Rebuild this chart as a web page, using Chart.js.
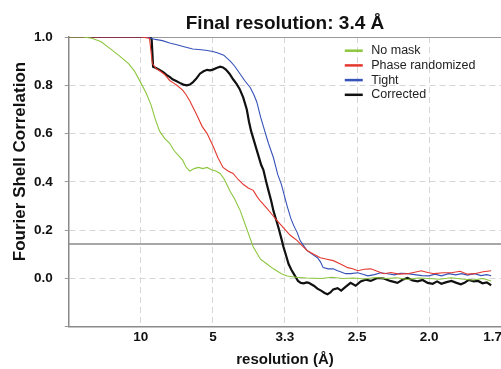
<!DOCTYPE html>
<html>
<head>
<meta charset="utf-8">
<script src="https://cdn.jsdelivr.net/npm/chart.js@4.4.1/dist/chart.umd.min.js"></script>
<style>
  html, body { margin: 0; padding: 0; background: #fff; overflow: hidden; }
  #wrap { width: 501px; height: 369px; overflow: hidden; }
</style>
</head>
<body>
<div id="wrap"><canvas id="fsc" width="504" height="369"></canvas></div>
<script>
// x values are spatial frequency (1/Å), ticks are labelled with resolution in Å
const xTickFreq = [0.1, 0.2, 0.3, 0.4, 0.5, 0.588];
const xTickLabels = ['10', '5', '3.3', '2.5', '2.0', '1.7'];
const threshold = 0.143;

const chartTitle = 'Final resolution: 3.4 Å';
const xTitle = 'resolution (Å)';
const yTitle = 'Fourier Shell Correlation';

const seriesNames = ['No mask', 'Phase randomized', 'Tight', 'Corrected'];
const seriesColors = ['#8dc63f', '#e3382f', '#3552b8', '#111111'];

// [frequency, FSC]
const noMask = [
  [0, 1.0], [0.02, 1.0], [0.032, 0.995], [0.045, 0.98], [0.056, 0.955], [0.069, 0.925],
  [0.083, 0.89], [0.091, 0.86], [0.1, 0.81], [0.107, 0.77], [0.114, 0.72], [0.12, 0.66],
  [0.126, 0.61], [0.133, 0.58], [0.14, 0.56], [0.146, 0.53], [0.152, 0.51], [0.158, 0.49],
  [0.163, 0.46], [0.168, 0.445], [0.174, 0.455], [0.18, 0.46], [0.186, 0.455], [0.192, 0.46],
  [0.198, 0.45], [0.204, 0.445], [0.21, 0.435], [0.216, 0.41], [0.224, 0.36], [0.23, 0.33],
  [0.238, 0.28], [0.247, 0.205], [0.256, 0.13], [0.266, 0.08], [0.275, 0.06], [0.284, 0.04],
  [0.295, 0.02], [0.303, 0.01], [0.315, 0.005], [0.33, 0.002], [0.35, 0.0], [0.365, 0.005],
  [0.38, 0.0], [0.395, 0.002], [0.41, -0.002], [0.425, 0.004], [0.44, 0.0], [0.455, 0.003],
  [0.47, -0.004], [0.485, 0.002], [0.5, 0.0], [0.515, -0.003], [0.53, 0.003], [0.545, -0.002],
  [0.56, -0.006], [0.575, 0.0], [0.586, -0.01]
];

const phaseRandomized = [
  [0, 1.0], [0.05, 1.0], [0.1, 1.0], [0.112, 0.995], [0.116, 0.89], [0.121, 0.87],
  [0.126, 0.86], [0.133, 0.845], [0.14, 0.82], [0.145, 0.81], [0.15, 0.8], [0.158, 0.78],
  [0.163, 0.76], [0.168, 0.735], [0.173, 0.705], [0.178, 0.675], [0.185, 0.63], [0.192, 0.6],
  [0.2, 0.55], [0.207, 0.5], [0.214, 0.46], [0.221, 0.445], [0.228, 0.435], [0.235, 0.41],
  [0.242, 0.39], [0.249, 0.375], [0.256, 0.365], [0.261, 0.34], [0.266, 0.32], [0.275, 0.29],
  [0.282, 0.265], [0.289, 0.24], [0.298, 0.21], [0.307, 0.18], [0.317, 0.157], [0.324, 0.135],
  [0.331, 0.115], [0.34, 0.1], [0.349, 0.086], [0.358, 0.08], [0.367, 0.074], [0.377, 0.06],
  [0.387, 0.045], [0.394, 0.04], [0.401, 0.032], [0.41, 0.038], [0.419, 0.04], [0.428, 0.03],
  [0.437, 0.02], [0.447, 0.025], [0.458, 0.018], [0.47, 0.02], [0.48, 0.026], [0.489, 0.032],
  [0.498, 0.025], [0.507, 0.02], [0.52, 0.024], [0.531, 0.024], [0.543, 0.03], [0.553, 0.018],
  [0.563, 0.02], [0.575, 0.028], [0.586, 0.032]
];

const tight = [
  [0, 1.0], [0.05, 1.0], [0.1, 1.0], [0.11, 0.998], [0.12, 0.99], [0.13, 0.985],
  [0.14, 0.975], [0.15, 0.968], [0.16, 0.96], [0.172, 0.95], [0.18, 0.948], [0.19, 0.945],
  [0.2, 0.94], [0.206, 0.935], [0.215, 0.925], [0.224, 0.9], [0.23, 0.88], [0.237, 0.85],
  [0.244, 0.82], [0.252, 0.79], [0.257, 0.76], [0.261, 0.73], [0.266, 0.67], [0.27, 0.63],
  [0.277, 0.56], [0.284, 0.5], [0.29, 0.43], [0.295, 0.39], [0.303, 0.3], [0.308, 0.25],
  [0.312, 0.22], [0.317, 0.19], [0.321, 0.157], [0.326, 0.135], [0.331, 0.115], [0.338, 0.1],
  [0.345, 0.086], [0.349, 0.07], [0.353, 0.045], [0.36, 0.04], [0.367, 0.04], [0.372, 0.033],
  [0.377, 0.028], [0.384, 0.02], [0.391, 0.02], [0.401, 0.024], [0.408, 0.018], [0.415, 0.011],
  [0.424, 0.016], [0.433, 0.024], [0.442, 0.02], [0.452, 0.015], [0.46, 0.022], [0.47, 0.02],
  [0.48, 0.016], [0.49, 0.012], [0.5, 0.011], [0.508, 0.018], [0.517, 0.011], [0.527, 0.02],
  [0.537, 0.015], [0.545, 0.02], [0.553, 0.014], [0.563, 0.02], [0.572, 0.012], [0.58, 0.016],
  [0.586, 0.011]
];

const corrected = [
  [0, 1.0], [0.05, 1.0], [0.1, 1.0], [0.113, 1.0], [0.115, 0.99], [0.117, 0.877],
  [0.121, 0.872], [0.126, 0.864], [0.131, 0.855], [0.136, 0.842], [0.14, 0.835], [0.144, 0.825],
  [0.149, 0.818], [0.154, 0.81], [0.159, 0.803], [0.164, 0.8], [0.168, 0.803], [0.172, 0.812],
  [0.177, 0.828], [0.182, 0.848], [0.187, 0.858], [0.192, 0.864], [0.196, 0.862], [0.2, 0.865],
  [0.205, 0.872], [0.21, 0.877], [0.214, 0.874], [0.218, 0.865], [0.223, 0.848], [0.228, 0.825],
  [0.233, 0.805], [0.237, 0.785], [0.242, 0.75], [0.247, 0.7], [0.25, 0.65], [0.253, 0.61],
  [0.256, 0.58], [0.26, 0.54], [0.263, 0.51], [0.267, 0.47], [0.27, 0.45], [0.274, 0.4],
  [0.277, 0.365], [0.281, 0.32], [0.284, 0.28], [0.288, 0.24], [0.291, 0.21], [0.295, 0.165],
  [0.298, 0.13], [0.302, 0.09], [0.305, 0.06], [0.309, 0.035], [0.312, 0.02], [0.315, 0.005],
  [0.318, -0.01], [0.322, -0.018], [0.326, -0.02], [0.33, -0.016], [0.333, -0.018], [0.337, -0.025],
  [0.34, -0.03], [0.345, -0.042], [0.35, -0.05], [0.355, -0.06], [0.359, -0.065], [0.363, -0.058],
  [0.367, -0.045], [0.373, -0.04], [0.378, -0.05], [0.384, -0.035], [0.391, -0.018], [0.398, -0.03],
  [0.405, -0.012], [0.412, -0.005], [0.419, -0.01], [0.428, 0.002], [0.437, 0.0], [0.446, -0.01],
  [0.456, -0.018], [0.463, -0.005], [0.47, 0.002], [0.477, -0.008], [0.484, -0.012], [0.491, -0.006],
  [0.498, -0.018], [0.505, -0.022], [0.511, -0.012], [0.517, -0.022], [0.524, -0.015], [0.531, -0.01],
  [0.538, -0.018], [0.544, -0.024], [0.549, -0.018], [0.555, -0.006], [0.562, -0.012], [0.568, -0.01],
  [0.574, -0.02], [0.58, -0.016], [0.586, -0.028]
];

const FONT = "'Liberation Sans', Arial, Helvetica, sans-serif";
Chart.defaults.font.family = FONT;
Chart.defaults.color = '#111';

const toPoints = arr => arr.map(p => ({ x: p[0], y: p[1] }));

const curves = [noMask, phaseRandomized, tight, corrected];
const datasets = curves.map((arr, i) => ({
  label: seriesNames[i],
  data: toPoints(arr),
  borderColor: seriesColors[i],
  borderWidth: i === 3 ? 2.2 : 1.1,
  pointRadius: 0,
  tension: 0
}));
datasets.push({
  label: '',
  data: [{ x: 0, y: threshold }, { x: 0.6, y: threshold }],
  borderColor: '#8a8a8a',
  borderWidth: 1.5,
  pointRadius: 0
});

// y axis title, placed like the original (slightly above the middle)
const yTitlePlugin = {
  id: 'yTitle',
  afterDraw(chart) {
    const c = chart.ctx;
    c.save();
    c.translate(25, 161.5);
    c.rotate(-Math.PI / 2);
    c.font = 'bold 17px ' + FONT;
    c.textAlign = 'center';
    c.textBaseline = 'alphabetic';
    c.fillStyle = '#111';
    c.fillText(yTitle, 0, 0);
    c.restore();
  }
};

// legend drawn inside the plot, top right
const insideLegend = {
  id: 'insideLegend',
  afterDatasetsDraw(chart) {
    const c = chart.ctx;
    const area = chart.chartArea;
    c.save();
    c.font = '12.5px ' + FONT;
    c.textBaseline = 'middle';
    let y = area.top + 13.7;
    chart.data.datasets.forEach(ds => {
      if (!ds.label) return;
      c.strokeStyle = ds.borderColor;
      c.lineWidth = 2.5;
      c.beginPath();
      c.moveTo(area.left + 276, y);
      c.lineTo(area.left + 294, y);
      c.stroke();
      c.fillStyle = '#222';
      c.fillText(ds.label, area.left + 302.5, y);
      y += 14.7;
    });
    c.restore();
  }
};

const isOne = c => c.tick && Math.abs(c.tick.value - 1) < 1e-6;

const ctx = document.getElementById('fsc').getContext('2d');
const fscChart = new Chart(ctx, {
  type: 'line',
  data: { datasets: datasets },
  options: {
    responsive: false,
    animation: false,
    layout: { padding: { left: 22, top: 12.7, right: 0, bottom: 0 } },
    plugins: {
      legend: { display: false },
      tooltip: { enabled: false },
      title: {
        display: true,
        text: chartTitle,
        fullSize: false,
        color: '#111',
        font: { size: 19, weight: 'bold' },
        padding: { top: 0, bottom: 1.5 }
      }
    },
    scales: {
      x: {
        type: 'linear',
        min: 0,
        max: 0.6,
        afterBuildTicks: scale => {
          scale.ticks = xTickFreq.map(v => ({ value: v }));
        },
        ticks: {
          autoSkip: false,
          maxRotation: 0,
          padding: 2,
          color: '#111',
          font: { size: 13.5, weight: 'bold' },
          callback: (v, i) => xTickLabels[i]
        },
        grid: {
          drawTicks: false,
          color: c => c.index === xTickFreq.length - 1 ? 'rgba(0,0,0,0)' : '#d6d6d6'
        },
        border: { color: '#8a8a8a', width: 1.5, dash: [6, 4] },
        title: {
          display: true,
          text: xTitle,
          color: '#111',
          font: { size: 15, weight: 'bold' },
          padding: { top: 4, bottom: 0 }
        }
      },
      y: {
        min: -0.2,
        max: 1.0,
        ticks: {
          stepSize: 0.2,
          padding: 12,
          color: '#111',
          font: { size: 13.5, weight: 'bold' },
          callback: v => v < -0.01 ? '' : Math.abs(v).toFixed(1)
        },
        grid: {
          tickLength: 4,
          tickColor: '#9a9a9a',
          color: c => isOne(c) ? '#9a9a9a' : '#d6d6d6'
        },
        border: {
          color: '#8a8a8a',
          width: 1.5,
          dash: c => isOne(c) ? [] : [6, 4]
        }
      }
    }
  },
  plugins: [yTitlePlugin, insideLegend]
});
</script>
</body>
</html>
